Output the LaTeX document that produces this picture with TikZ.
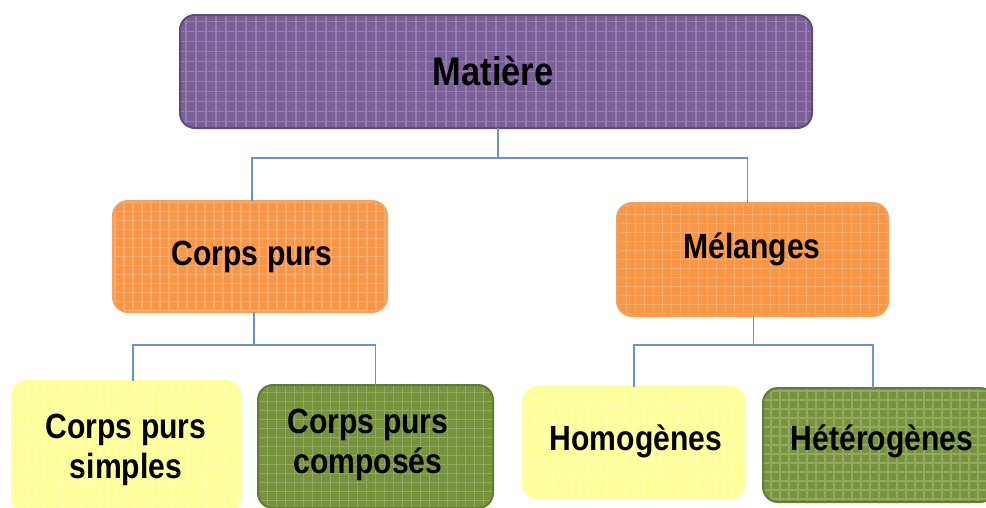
\documentclass[tikz,border=0pt]{standalone}
\usepackage{fontspec}
\setmainfont[FakeStretch=0.86]{Liberation Sans}
\begin{document}
\begin{tikzpicture}[x=1pt,y=-1pt,
  box/.style={draw, line width=2pt, rounded corners=15pt, inner sep=0pt, outer sep=0pt},
  gridfill/.style={path picture={\draw[step=#1, white, opacity=.2, line width=1.3pt]
      (path picture bounding box.south west) grid (path picture bounding box.north east);}},
  purplebox/.style={box, fill=boxpurple, draw=borderpurple, gridfill=10pt},
  orangebox/.style={box, fill=boxorange, draw=boxorange!90!white, gridfill=9pt},
  yellowbox/.style={box, fill=boxyellow, draw=boxyellow, gridfill=9pt},
  greenbox/.style={box, fill=boxgreen, draw=bordergreen, gridfill=9pt},
  txt/.style={font=\bfseries\fontsize{35}{40}\selectfont, inner sep=0pt, align=center, text=black},
  conn/.style={draw=connblue, line width=1.8pt}]
\definecolor{boxpurple}{HTML}{7A5F98}
\definecolor{borderpurple}{HTML}{5E4A7C}
\definecolor{boxorange}{HTML}{F79646}
\definecolor{boxyellow}{HTML}{FFFF99}
\definecolor{boxgreen}{HTML}{77933C}
\definecolor{bordergreen}{HTML}{637D30}
\definecolor{connblue}{HTML}{6A93C8}
\useasboundingbox (0,0) rectangle (986,507);
\clip (0,0) rectangle (986,507);

% boxes
\node[purplebox, minimum width=632pt, minimum height=113pt] (mat) at (496,71.5) {};
\node[orangebox, minimum width=274pt, minimum height=111pt] (cp) at (250,256.5) {};
\node[orangebox, minimum width=271pt, minimum height=113pt] (mel) at (752.5,259.5) {};
\node[yellowbox, minimum width=228pt, minimum height=131pt] (cps) at (126,446.5) {};
\node[greenbox, minimum width=235pt, minimum height=123pt] (cpc) at (375.5,446.5) {};
\node[yellowbox, minimum width=222pt, minimum height=111pt] (hom) at (634,442.5) {};
\node[greenbox, minimum width=232pt, minimum height=114pt] (het) at (879,445) {};

% connectors
\draw[conn] ([xshift=2pt]mat.south) -- ++(0,30) -| ([xshift=2pt]cp.north);
\draw[conn] ([xshift=2pt]mat.south) -- ++(0,30) -| ([xshift=-5pt]mel.north);
\draw[conn] ([xshift=4pt]cp.south) -- ++(0,33) -| ([xshift=7pt]cps.north);
\draw[conn] ([xshift=4pt]cp.south) -- ++(0,33) -| (cpc.north);
\draw[conn] ([xshift=1pt]mel.south) -- ++(0,29) -| (hom.north);
\draw[conn] ([xshift=1pt]mel.south) -- ++(0,29) -| ([xshift=-6pt]het.north);

% texts
\node[txt, font=\bfseries\fontsize{40}{46}\selectfont, anchor=base] (tmat) at (493,85) {Matière};
\node[txt, anchor=base] (tcp) at (252,265) {Corps purs};
\node[txt, anchor=base] (tmel) at (752,258) {Mélanges};
\node[txt, anchor=base] (tcps) at (126,478) {Corps purs\\simples};
\node[txt, anchor=base] (tcpc) at (368,473) {Corps purs\\composés};
\node[txt, anchor=base] (thom) at (636,450) {Homogènes};
\node[txt, anchor=base] (thet) at (882,450) {Hétérogènes};
\end{tikzpicture}
\end{document}
